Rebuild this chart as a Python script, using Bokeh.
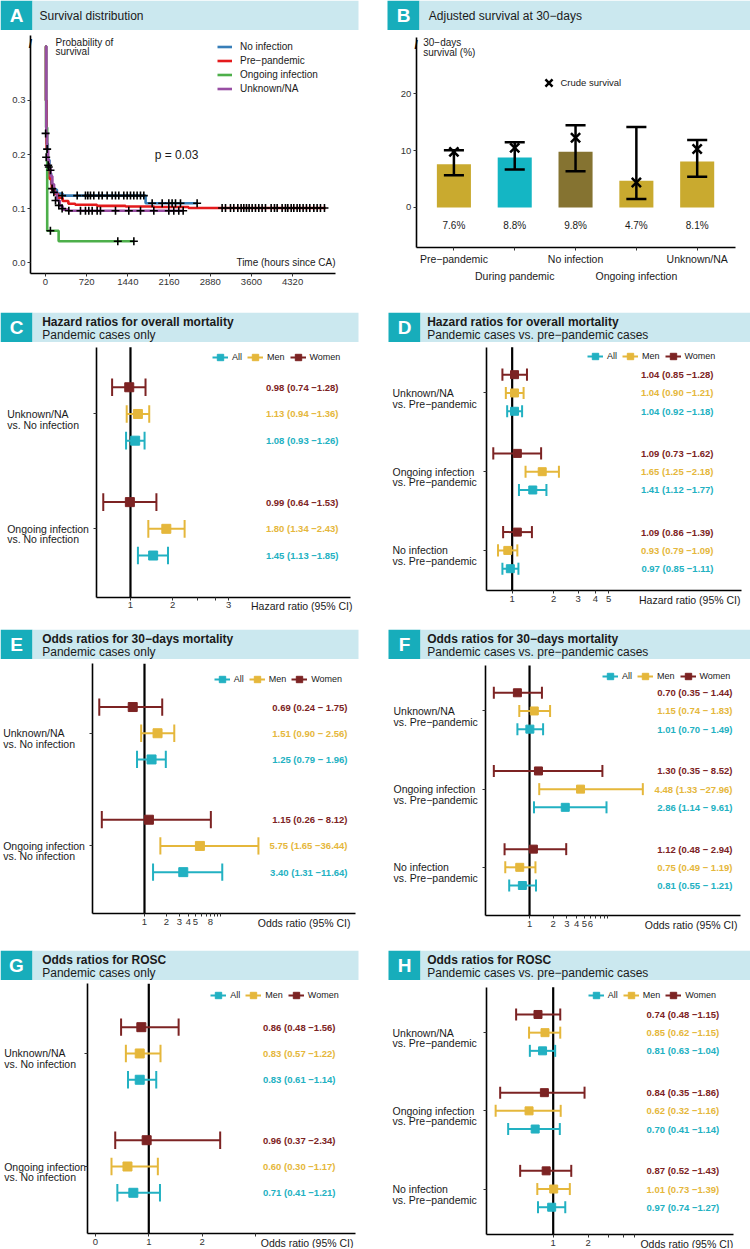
import math
from bokeh.plotting import figure
from bokeh.layouts import column, row
from bokeh.models import (Range1d, FixedTicker, Label, Legend, LegendItem,
                          NumeralTickFormatter)
from bokeh.embed import file_html
from bokeh.resources import INLINE
from bokeh.core.properties import value

FONT = "Liberation Sans"
TEAL_BOX = "#17adbb"
BAND = "#cbe8ef"
C_ALL = "#22b1c2"
C_MEN = "#e5b73b"
C_WOMEN = "#7c2323"
TICK_COL = "#333333"
TXT = "#1a1a1a"

# ---------------- Panel A: Kaplan-Meier data
km_labels = ["No infection", "Pre−pandemic", "Ongoing infection", "Unknown/NA"]
km_colors = ["#377eb8", "#e41a1c", "#4daf4a", "#984ea3"]
a_xticks = [0, 720, 1440, 2160, 2880, 3600, 4320]
a_yticks = [0.0, 0.1, 0.2, 0.3]

noinf_time = [0, 8, 20, 40, 70, 100, 140, 200, 300, 1750, 2650]
noinf_surv = [0.40, 0.30, 0.22, 0.19, 0.165, 0.145, 0.135, 0.128, 0.124, 0.110, 0.110]
pre_time = [0, 8, 20, 40, 70, 110, 160, 220, 300, 400, 520, 900, 1400, 1900, 2500, 4900]
pre_surv = [0.40, 0.30, 0.21, 0.18, 0.155, 0.135, 0.127, 0.120, 0.114, 0.109, 0.107,
            0.105, 0.104, 0.103, 0.101, 0.101]
ong_time = [0, 10, 30, 230, 1545]
ong_surv = [0.40, 0.25, 0.059, 0.0395, 0.0395]
unk_time = [0, 5, 15, 30, 45, 60, 90, 120, 150, 200, 250, 300, 400, 2410]
unk_surv = [0.40, 0.40, 0.24, 0.21, 0.19, 0.175, 0.16, 0.145, 0.13, 0.115, 0.105, 0.098,
            0.096, 0.096]

noinf_cens_t = [291, 554, 699, 740, 786, 845, 932, 991, 1078, 1165, 1224, 1282, 1369,
                1428, 1486, 1544, 1602, 1661, 1719, 1865, 2040, 2156, 2214, 2273, 2360, 2651]
noinf_cens_s = [0.124, 0.124, 0.124, 0.124, 0.124, 0.124, 0.124, 0.124, 0.124, 0.124,
                0.124, 0.124, 0.124, 0.124, 0.124, 0.124, 0.124, 0.124, 0.124,
                0.110, 0.110, 0.110, 0.110, 0.110, 0.110, 0.110]
pre_cens_t = [3088, 3147, 3234, 3292, 3362, 3420, 3467, 3514, 3560, 3613, 3671, 3729,
              3787, 3846, 3945, 4003, 4050, 4137, 4195, 4236, 4295, 4341, 4399, 4446,
              4504, 4562, 4621, 4691, 4749, 4807, 4877]
pre_cens_s = [0.101, 0.101, 0.101, 0.101, 0.101, 0.101, 0.101, 0.101, 0.101, 0.101,
              0.101, 0.101, 0.101, 0.101, 0.101, 0.101, 0.101, 0.101, 0.101, 0.101,
              0.101, 0.101, 0.101, 0.101, 0.101, 0.101, 0.101, 0.101, 0.101, 0.101, 0.101]
ong_cens_t = [86, 1264, 1545]
ong_cens_s = [0.059, 0.0395, 0.0395]
unk_cens_t = [2, 12, 29, 47, 58, 87, 116, 146, 175, 233, 291, 408, 612, 699, 757, 816,
              903, 961, 1224, 1456, 1661, 1894, 2156, 2243, 2330, 2407]
unk_cens_s = [0.239, 0.195, 0.210, 0.180, 0.177, 0.171, 0.137, 0.130, 0.115, 0.106,
              0.100, 0.096, 0.096, 0.096, 0.096, 0.096, 0.096, 0.096, 0.096, 0.096,
              0.096, 0.096, 0.096, 0.096, 0.096, 0.096]

# ---------------- Panel B data
b_groups = ["Pre−pandemic", "During pandemic", "No infection", "Ongoing infection", "Unknown/NA"]
b_adjusted = [7.6, 8.8, 9.8, 4.7, 8.1]
b_lower = [5.7, 6.7, 6.4, 1.5, 5.4]
b_upper = [10.1, 11.5, 14.5, 14.2, 11.9]
b_crude = [9.8, 10.5, 12.3, 4.4, 10.3]
b_colors = ["#c9aa2f", "#14b6c4", "#857331", "#c9aa2f", "#c9aa2f"]
b_yticks = [0, 10, 20]

# ---------------- Forest data
grp_vs_noinf = ["Unknown/NA\nvs. No infection", "Ongoing infection\nvs. No infection"]
grp_vs_pre = ["Unknown/NA\nvs. Pre−pandemic", "Ongoing infection\nvs. Pre−pandemic",
              "No infection\nvs. Pre−pandemic"]

c_women = [0.98, 0.99]; c_women_lo = [0.74, 0.64]; c_women_hi = [1.28, 1.53]
c_men = [1.13, 1.80];   c_men_lo = [0.94, 1.34];   c_men_hi = [1.36, 2.43]
c_all = [1.08, 1.45];   c_all_lo = [0.93, 1.13];   c_all_hi = [1.26, 1.85]
c_ticks = [1, 2, 3, 4, 5]; c_tick_labels = ["1", "2", "", "", "3"]

d_women = [1.04, 1.09, 1.09]; d_women_lo = [0.85, 0.73, 0.86]; d_women_hi = [1.28, 1.62, 1.39]
d_men = [1.04, 1.65, 0.93];   d_men_lo = [0.90, 1.25, 0.79];   d_men_hi = [1.21, 2.18, 1.09]
d_all = [1.04, 1.41, 0.97];   d_all_lo = [0.92, 1.12, 0.85];   d_all_hi = [1.18, 1.77, 1.11]
d_ticks = [1, 2, 3, 4, 5]; d_tick_labels = ["1", "2", "3", "4", "5"]

e_women = [0.69, 1.15]; e_women_lo = [0.24, 0.26]; e_women_hi = [1.75, 8.12]
e_men = [1.51, 5.75];   e_men_lo = [0.90, 1.65];   e_men_hi = [2.56, 36.44]
e_all = [1.25, 3.40];   e_all_lo = [0.79, 1.31];   e_all_hi = [1.96, 11.64]
e_ticks = [1, 2, 3, 4, 5, 6, 7, 8, 9, 10, 11]
e_tick_labels = ["1", "2", "3", "4", "5", "", "", "8", "", "", ""]

f_women = [0.70, 1.30, 1.12]; f_women_lo = [0.35, 0.35, 0.48]; f_women_hi = [1.44, 8.52, 2.94]
f_men = [1.15, 4.48, 0.75];   f_men_lo = [0.74, 1.33, 0.49];   f_men_hi = [1.83, 27.96, 1.19]
f_all = [1.01, 2.86, 0.81];   f_all_lo = [0.70, 1.14, 0.55];   f_all_hi = [1.49, 9.61, 1.21]
f_ticks = [1, 2, 3, 4, 5, 6, 7, 8, 9, 10]
f_tick_labels = ["1", "2", "3", "4", "5", "6", "", "", "", ""]

g_women = [0.86, 0.96]; g_women_lo = [0.48, 0.37]; g_women_hi = [1.56, 2.34]
g_men = [0.83, 0.60];   g_men_lo = [0.57, 0.30];   g_men_hi = [1.22, 1.17]
g_all = [0.83, 0.71];   g_all_lo = [0.61, 0.41];   g_all_hi = [1.14, 1.21]
g_ticks = [0, 1, 2, 3]; g_tick_labels = ["0", "1", "2", ""]

h_women = [0.74, 0.84, 0.87]; h_women_lo = [0.48, 0.35, 0.52]; h_women_hi = [1.15, 1.86, 1.43]
h_men = [0.85, 0.62, 1.01];   h_men_lo = [0.62, 0.32, 0.73];   h_men_hi = [1.15, 1.16, 1.39]
h_all = [0.81, 0.70, 0.97];   h_all_lo = [0.63, 0.41, 0.74];   h_all_hi = [1.04, 1.14, 1.27]
h_ticks = [1, 2, 3, 4, 5]; h_tick_labels = ["1", "2", "", "", ""]

LW, RW = 375, 375          # left / right column widths
HH = 30                    # header height
GROUP_PITCH = 4.3
CAP = 0.33


def ext(a0, a1, p0, p1, total, log=False):
    """Extend an axis range (a0 at pixel p0, a1 at pixel p1) to the whole canvas."""
    if log:
        a0, a1 = math.log(a0), math.log(a1)
    s = (a1 - a0) / (p1 - p0)
    lo, hi = a0 - p0 * s, a1 + (total - p1) * s
    if log:
        return math.exp(lo), math.exp(hi)
    return lo, hi


def style(p):
    p.grid.visible = False
    p.outline_line_color = None
    p.background_fill_color = "white"
    p.border_fill_color = "white"
    for ax in p.axis:
        ax.axis_line_color = "black"
        ax.axis_line_width = 1.6
        ax.major_tick_line_color = TICK_COL
        ax.major_tick_out = 3
        ax.major_tick_in = 0
        ax.minor_tick_line_color = None
        ax.major_label_text_font = FONT
        ax.major_label_text_font_size = "9.5px"
        ax.major_label_text_color = TICK_COL
        ax.major_label_standoff = 2


def make_fig(W, H, box, xr, yr, log=False):
    L, R, T, B = box
    x_lo, x_hi = ext(xr[0], xr[1], L, R, W, log)
    y_lo, y_hi = ext(yr[0], yr[1], H - B, H - T, H)
    p = figure(width=W, height=H, x_range=Range1d(x_lo, x_hi), y_range=Range1d(y_lo, y_hi),
               x_axis_type="log" if log else "linear", output_backend="svg",
               toolbar_location=None, min_border=0)
    style(p)
    p.xaxis.fixed_location = yr[0]
    p.xaxis.bounds = tuple(xr)
    p.yaxis.fixed_location = xr[0]
    p.yaxis.bounds = tuple(yr)
    return p


def header(width, letter, title, subtitle, box_x0, band_x1, text_x):
    h = figure(width=width, height=HH, x_range=Range1d(0, width), y_range=Range1d(0, HH),
               x_axis_location=None, y_axis_location=None, min_border=0,
               toolbar_location=None, output_backend="svg")
    h.grid.visible = False
    h.outline_line_color = None
    h.quad(left=[box_x0], right=[box_x0 + 32], bottom=[0], top=[HH],
           fill_color=TEAL_BOX, line_color=None)
    h.quad(left=[box_x0 + 32], right=[band_x1], bottom=[0], top=[HH],
           fill_color=BAND, line_color=None)
    h.text(x=[box_x0 + 16], y=[HH / 2], text=[letter], text_align="center",
           text_baseline="middle", text_font=value(FONT), text_font_style="bold",
           text_font_size="19px", text_color="white")
    if subtitle is None:
        h.text(x=[text_x], y=[HH / 2], text=[title], text_align="left", text_baseline="middle",
               text_font=value(FONT), text_font_size="12px", text_color=TXT)
    else:
        h.text(x=[text_x], y=[20.7], text=[title], text_align="left", text_baseline="middle",
               text_font=value(FONT), text_font_style="bold", text_font_size="12px",
               text_color=TXT)
        h.text(x=[text_x], y=[7.5], text=[subtitle], text_align="left", text_baseline="middle",
               text_font=value(FONT), text_font_size="12px", text_color=TXT)
    return h


# ================= Panel A
xa = (-262, 5070)
ya = (-0.02, 0.42)
HA = 282
pA = make_fig(LW, HA, (30, 335, 5, 243), xa, ya)
km_series = [(noinf_time, noinf_surv), (pre_time, pre_surv), (ong_time, ong_surv),
             (unk_time, unk_surv)]
km_items = []
for (t, s), lab, col in zip(km_series, km_labels, km_colors):
    r = pA.step(t, s, mode="after", line_color=col, line_width=2.6)
    km_items.append(LegendItem(label=lab, renderers=[r]))
for ct, cs in [(noinf_cens_t, noinf_cens_s), (pre_cens_t, pre_cens_s),
               (ong_cens_t, ong_cens_s), (unk_cens_t, unk_cens_s)]:
    pA.scatter(ct, cs, marker="cross", size=8, line_color="black", line_width=1.6)
pA.xaxis.ticker = FixedTicker(ticks=a_xticks)
pA.yaxis.ticker = FixedTicker(ticks=a_yticks)
pA.yaxis.formatter = NumeralTickFormatter(format="0.0")
legA = Legend(items=km_items, location=(217, HA - 65.3),
              glyph_width=15, glyph_height=13, label_height=13, spacing=1, padding=0,
              margin=0, label_standoff=8, label_text_font=FONT, label_text_font_size="10px",
              label_text_color=TXT, background_fill_alpha=0, border_line_color=None)
pA.add_layout(legA)
pA.add_layout(Label(x=xa[0], y=ya[1], x_offset=25, y_offset=-1, text="Probability of\nsurvival",
                    text_align="left", text_baseline="top", text_font=FONT,
                    text_font_size="10px", text_color=TXT, text_line_height=0.87))
pA.add_layout(Label(x=2290, y=0.2, text="p = 0.03", text_align="center",
                    text_baseline="middle", text_font=FONT, text_font_size="12px",
                    text_color=TXT))
pA.add_layout(Label(x=xa[1], y=0.0, text="Time (hours since CA)", text_align="right",
                    text_baseline="middle", text_font=FONT, text_font_size="10px",
                    text_color=TXT))
pA.add_layout(Label(x=xa[0], y=ya[1], y_offset=-8, text="/", text_align="center",
                    text_baseline="middle", text_font=FONT, text_font_style="bold",
                    text_font_size="12px", text_color="black"))
hA = header(LW, "A", "Survival distribution", None, 0, 358, 39)

# ================= Panel B
xb = (0.38, 5.63)
yb = (-7.1, 30)
HB = 282
pB = make_fig(RW, HB, (40.7, 360, 6.7, 217.3), xb, yb)
bx = list(range(1, len(b_groups) + 1))
pB.vbar(x=bx, top=b_adjusted, bottom=0, width=0.56, fill_color=b_colors, line_color=None)
pB.segment(x0=bx, y0=b_lower, x1=bx, y1=b_upper, line_color="black", line_width=2.5)
pB.segment(x0=[x - 0.165 for x in bx], y0=b_upper, x1=[x + 0.165 for x in bx], y1=b_upper,
           line_color="black", line_width=2.5)
pB.segment(x0=[x - 0.165 for x in bx], y0=b_lower, x1=[x + 0.165 for x in bx], y1=b_lower,
           line_color="black", line_width=2.5)
crude_r = pB.scatter(x=bx, y=b_crude, marker="x", size=13, line_color="black", line_width=2.5)
pB.text(x=bx, y=[-3.2] * len(bx), text=[f"{v:.1f}%" for v in b_adjusted], text_align="center",
        text_baseline="middle", text_font=value(FONT), text_font_size="10px", text_color=TXT)
pB.yaxis.ticker = FixedTicker(ticks=b_yticks)
pB.xaxis.ticker = FixedTicker(ticks=bx)
pB.xaxis.major_label_overrides = {x: "" for x in bx}
pB.text(x=[x for x in bx if x % 2 == 1], y=[yb[0]] * 3,
        text=[g for x, g in zip(bx, b_groups) if x % 2 == 1], y_offset=11,
        text_align="center", text_baseline="middle", text_font=value(FONT),
        text_font_size="10.5px", text_color=TXT)
pB.text(x=[x for x in bx if x % 2 == 0], y=[yb[0]] * 2,
        text=[g for x, g in zip(bx, b_groups) if x % 2 == 0], y_offset=28,
        text_align="center", text_baseline="middle", text_font=value(FONT),
        text_font_size="10.5px", text_color=TXT)
legB = Legend(items=[LegendItem(label="Crude survival", renderers=[crude_r])],
              location=(160.5, HB - 64.5), glyph_width=25,
              glyph_height=25, label_height=25, padding=0, margin=0, label_standoff=0,
              label_text_font=FONT, label_text_font_size="9.5px", label_text_color=TXT,
              background_fill_alpha=0, border_line_color=None)
pB.add_layout(legB)
pB.add_layout(Label(x=xb[0], y=yb[1], x_offset=7, y_offset=0, text="30−days\nsurvival (%)",
                    text_align="left", text_baseline="top", text_font=FONT,
                    text_font_size="10px", text_color=TXT, text_line_height=0.9))
pB.add_layout(Label(x=xb[0], y=yb[1], y_offset=-8, text="/", text_align="center",
                    text_baseline="middle", text_font=FONT, text_font_style="bold",
                    text_font_size="12px", text_color="black"))
hB = header(RW, "B", "Adjusted survival at 30−days", None, 12, RW, 53.3)


# ================= Forest plots
def forest(W, H, box, xr, log, ticks, tick_labels, yr, groups,
           women, women_lo, women_hi, men, men_lo, men_hi, al, al_lo, al_hi,
           upper_w, text_gap, ylab_off, leg_pos, title, title_dx, sq):
    L, R, T, B = box
    p = make_fig(W, H, box, xr, yr, log)
    n = len(groups)
    base = [(n - 1 - g) * GROUP_PITCH for g in range(n)]
    p.segment(x0=[1], y0=[yr[0]], x1=[1], y1=[yr[1]], line_color="black", line_width=2.2)
    items = []
    for name, col, est, lo, hi, off in [("All", C_ALL, al, al_lo, al_hi, 0.0),
                                        ("Men", C_MEN, men, men_lo, men_hi, 1.0),
                                        ("Women", C_WOMEN, women, women_lo, women_hi, 2.0)]:
        ys = [b + off for b in base]
        r1 = p.segment(x0=lo, y0=ys, x1=hi, y1=ys, line_color=col, line_width=2)
        p.segment(x0=lo, y0=[y - CAP for y in ys], x1=lo, y1=[y + CAP for y in ys],
                  line_color=col, line_width=2)
        p.segment(x0=hi, y0=[y - CAP for y in ys], x1=hi, y1=[y + CAP for y in ys],
                  line_color=col, line_width=2)
        r2 = p.scatter(x=est, y=ys, marker="square", size=sq, fill_color=col, line_color=col)
        labels = [f"{e:.2f} ({l:.2f} −{u:{upper_w}.2f})" for e, l, u in zip(est, lo, hi)]
        p.text(x=[xr[1]] * n, y=ys, text=labels, x_offset=-text_gap, text_align="right",
               text_baseline="middle", text_font=value(FONT), text_font_style="bold",
               text_font_size="9.5px", text_color=col)
        items.append(LegendItem(label=name, renderers=[r1, r2]))
    p.xaxis.ticker = FixedTicker(ticks=ticks)
    p.xaxis.major_label_overrides = {t: lab for t, lab in zip(ticks, tick_labels)}
    yt = [b + 1 for b in base]
    p.yaxis.ticker = FixedTicker(ticks=yt)
    p.yaxis.major_label_overrides = {t: "" for t in yt}
    p.text(x=[xr[0]] * n, y=yt, text=groups, x_offset=ylab_off, y_offset=-6,
           text_align="left", text_baseline="top", text_font=value(FONT),
           text_font_size="10.5px", text_color=TXT, text_line_height=0.88)
    vx, gap = leg_pos
    leg = Legend(items=items, location=(vx, H - T - gap - 9),
                 orientation="horizontal", glyph_width=16, glyph_height=18, label_height=18,
                 label_width=10, spacing=5, padding=0, margin=0, label_standoff=4,
                 label_text_font=FONT, label_text_font_size="9px", label_text_color=TXT,
                 background_fill_alpha=0, border_line_color=None)
    p.add_layout(leg)
    p.text(x=[xr[1]], y=[yr[0]], text=[title], x_offset=title_dx, y_offset=9,
           text_align="right", text_baseline="middle", text_font=value(FONT),
           text_font_size="10.5px", text_color=TXT)
    return p


pC = forest(LW, 287, (95.7, 350, 4.7, 254.7), (0.57, 36.9), True, c_ticks, c_tick_labels,
            (-1.56, 7.8), grp_vs_noinf, c_women, c_women_lo, c_women_hi, c_men, c_men_lo,
            c_men_hi, c_all, c_all_lo, c_all_hi, 4, 12, -89, (212, 10),
            "Hazard ratio (95% CI)", 2, 9)
hC = header(LW, "C", "Hazard ratios for overall mortality", "Pandemic cases only", 0, 358, 41.7)

pD = forest(RW, 287, (111, 366, 4.7, 248), (0.652, 45.7), True, d_ticks, d_tick_labels,
            (-1.19, 12.1), grp_vs_pre, d_women, d_women_lo, d_women_hi, d_men, d_men_lo,
            d_men_hi, d_all, d_all_lo, d_all_hi, 4, 28, -94, (212, 9),
            "Hazard ratio (95% CI)", -1, 8)
hD = header(RW, "D", "Hazard ratios for overall mortality",
            "Pandemic cases vs. pre−pandemic cases", 13, RW, 51.7)

pE = forest(LW, 291, (91.7, 355, 4.3, 254.3), (0.192, 780), True, e_ticks, e_tick_labels,
            (-1.59, 7.95), grp_vs_noinf, e_women, e_women_lo, e_women_hi, e_men, e_men_lo,
            e_men_hi, e_all, e_all_lo, e_all_hi, 5, 8, -89, (213.7, 16),
            "Odds ratio (95% CI)", -5, 9)
hE = header(LW, "E", "Odds ratios for 30−days mortality", "Pandemic cases only", 0, 358, 41.7)

pF = forest(RW, 291, (110, 365, 6, 256), (0.274, 494), True, f_ticks, f_tick_labels,
            (-1.65, 12.1), grp_vs_pre, f_women, f_women_lo, f_women_hi, f_men, f_men_lo,
            f_men_hi, f_all, f_all_lo, f_all_hi, 5, 8, -92, (227, 11),
            "Odds ratio (95% CI)", -3, 8)
hF = header(RW, "F", "Odds ratios for 30−days mortality",
            "Pandemic cases vs. pre−pandemic cases", 13, RW, 51.7)

pG = forest(LW, 268, (86.7, 355, 3.3, 253.3), (-0.156, 4.88), False, g_ticks, g_tick_labels,
            (-1.56, 7.95), grp_vs_noinf, g_women, g_women_lo, g_women_hi, g_men, g_men_lo,
            g_men_hi, g_all, g_all_lo, g_all_hi, 4, 20, -83, (210.3, 12),
            "Odds ratio (95% CI)", -2, 9)
hG = header(LW, "G", "Odds ratios for ROSC", "Pandemic cases only", 0, 358, 41.7)

pH = forest(RW, 268, (111, 357.7, 6.7, 254), (0.267, 35.3), True, h_ticks, h_tick_labels,
            (-1.5, 12.1), grp_vs_pre, h_women, h_women_lo, h_women_hi, h_men, h_men_lo,
            h_men_hi, h_all, h_all_lo, h_all_hi, 4, 14, -94, (212.7, 8),
            "Odds ratio (95% CI)", 0, 8)
hH = header(RW, "H", "Odds ratios for ROSC", "Pandemic cases vs. pre−pandemic cases",
            13, RW, 51.7)

layout = column(
    row(column(hA, pA), column(hB, pB)),
    row(column(hC, pC), column(hD, pD)),
    row(column(hE, pE), column(hF, pF)),
    row(column(hG, pG), column(hH, pH)),
)

open("out.html", "w").write(file_html(layout, INLINE, title="Survival and mortality"))
